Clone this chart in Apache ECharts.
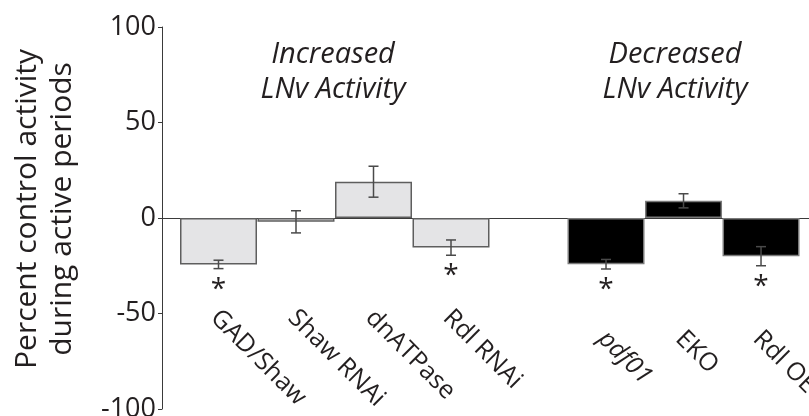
<!DOCTYPE html>
<html>
<head>
<meta charset="utf-8">
<script src="https://cdn.jsdelivr.net/npm/echarts@6/dist/echarts.min.js"></script>
<style>
html,body{margin:0;padding:0;background:#fff;}
#chart{width:809px;height:416px;}
</style>
</head>
<body>
<div id="chart"></div>
<script>
// ---- data ----
const categories = ['GAD/Shaw', 'Shaw RNAi', 'dnATPase', 'Rdl RNAi', '', 'pdf01', 'EKO', 'Rdl OE'];
const means      = [-24.3, -2, 19, -15.5, null, -24.2, 9, -20];
const errors     = [2.2, 5.8, 8.1, 4, null, 2.5, 3.7, 5];
const significant = [1, 0, 0, 1, 0, 1, 0, 1];
const decreasedGroup = [0, 0, 0, 0, 0, 1, 1, 1];
const italicLabels = ['pdf01'];
const yTicks = [-100, -50, 0, 50, 100];
const groupTitles = ['Increased\nLNv Activity', 'Decreased\nLNv Activity'];
const yAxisName = 'Percent control activity\nduring active periods';

// ---- build ----
const FONT = '"Open Sans", "Noto Sans", sans-serif';
const TEXT = '#231f20';

const barData = [];
const errData = [];
means.forEach((m, i) => {
  if (m === null) return;
  const dark = decreasedGroup[i] === 1;
  barData.push({
    value: [i, m],
    itemStyle: {
      color: dark ? '#000000' : '#e4e4e6',
      borderColor: dark ? '#7a7a7a' : '#5e5e5e',
      borderWidth: 1.5
    }
  });
  errData.push([i, m, errors[i], significant[i]]);
});

const LABEL_SHIFT = 0.05; // labels sit slightly left of bar centres
const leftIdx = [], rightIdx = [];
categories.forEach((c, i) => {
  if (!c) return;
  (decreasedGroup[i] ? rightIdx : leftIdx).push(i - LABEL_SHIFT);
});

const XMIN = -0.729, XMAX = 7.619;
function labelFmt(v) {
  const name = categories[Math.round(v)] || '';
  return italicLabels.indexOf(name) >= 0 ? '{it|' + name + '}' : name;
}
function makeXAxis(idx, margin, showLine) {
  return {
    type: 'value', min: XMIN, max: XMAX, position: 'bottom',
    axisLine: { show: showLine, onZero: true, lineStyle: { color: '#3a3a3a', width: 1 } },
    axisTick: { show: false },
    splitLine: { show: false },
    axisLabel: {
      customValues: idx, rotate: -45, margin: margin,
      fontFamily: FONT, fontSize: 25, color: TEXT,
      formatter: labelFmt,
      rich: { it: { fontStyle: 'italic', fontFamily: FONT, fontSize: 25, color: TEXT } }
    }
  };
}

const chart = echarts.init(document.getElementById('chart'), null, { renderer: 'canvas' });
chart.setOption({
  animation: false,
  backgroundColor: '#ffffff',
  textStyle: { fontFamily: FONT },
  title: [
    { text: groupTitles[0], left: 333, top: 37, padding: 0, textAlign: 'center',
      textStyle: { fontFamily: FONT, fontStyle: 'italic', fontWeight: 'normal', fontSize: 29, lineHeight: 35, color: TEXT } },
    { text: groupTitles[1], left: 675, top: 37, padding: 0, textAlign: 'center',
      textStyle: { fontFamily: FONT, fontStyle: 'italic', fontWeight: 'normal', fontSize: 29, lineHeight: 35, color: TEXT } }
  ],
  grid: { left: 162, right: 0, top: 27, bottom: 7, containLabel: false, outerBoundsMode: 'none' },
  xAxis: [ makeXAxis(leftIdx, -95, true), makeXAxis(rightIdx, -74, false) ],
  yAxis: {
    type: 'value', min: yTicks[0], max: yTicks[yTicks.length - 1], interval: 50,
    name: yAxisName, nameLocation: 'middle', nameGap: 82, nameRotate: 90,
    nameTextStyle: { fontFamily: FONT, fontSize: 30, lineHeight: 35, color: TEXT, padding: [0, 0, 0, 18] },
    axisLine: { show: true, onZero: false, lineStyle: { color: '#3a3a3a', width: 1 } },
    axisTick: { show: true, length: 4, lineStyle: { color: '#3a3a3a' } },
    splitLine: { show: false },
    axisLabel: { fontFamily: FONT, fontSize: 27, color: TEXT, margin: 6 }
  },
  series: [
    { type: 'bar', xAxisIndex: 0, barWidth: 77, data: barData, z: 2 },
    {
      type: 'custom', xAxisIndex: 0, data: errData, z: 3,
      renderItem: function (params, api) {
        const x = api.value(0), m = api.value(1), e = api.value(2), sig = api.value(3);
        const top = api.coord([x, m + e]);
        const bot = api.coord([x, m - e]);
        const hw = 5;
        const style = { stroke: '#4a4a4a', lineWidth: 1.5 };
        const children = [
          { type: 'line', shape: { x1: top[0], y1: top[1], x2: bot[0], y2: bot[1] }, style: style },
          { type: 'line', shape: { x1: top[0] - hw, y1: top[1], x2: top[0] + hw, y2: top[1] }, style: style },
          { type: 'line', shape: { x1: bot[0] - hw, y1: bot[1], x2: bot[0] + hw, y2: bot[1] }, style: style }
        ];
        if (sig) {
          children.push({
            type: 'text',
            style: { text: '*', x: bot[0], y: bot[1] + 21, align: 'center', verticalAlign: 'middle',
                     fontFamily: FONT, fontSize: 28, fill: TEXT }
          });
        }
        return { type: 'group', children: children };
      }
    }
  ]
});
</script>
</body>
</html>
